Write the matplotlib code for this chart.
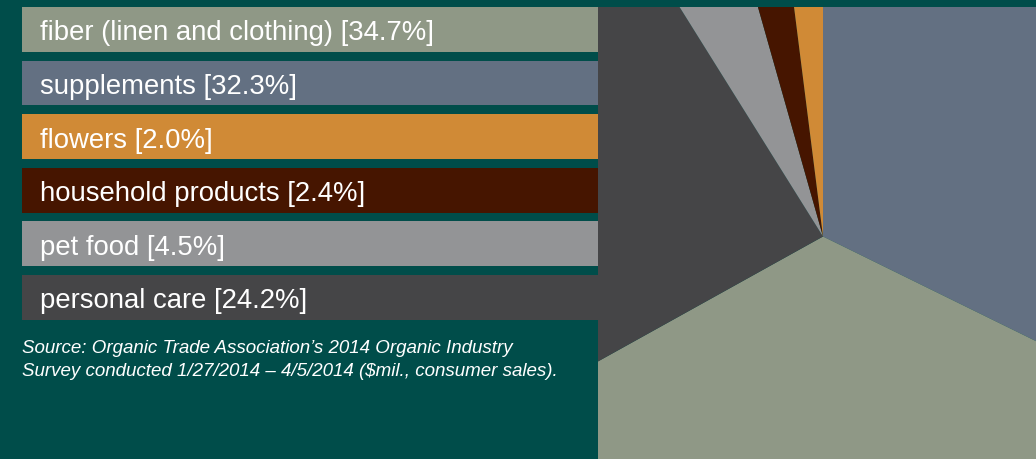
import matplotlib.pyplot as plt

plt.rcParams['font.family'] = ['Liberation Sans', 'DejaVu Sans']

# legend order (top to bottom)
categories = ['fiber (linen and clothing)', 'supplements', 'flowers',
              'household products', 'pet food', 'personal care']
shares = [34.7, 32.3, 2.0, 2.4, 4.5, 24.2]
colors = ['#8f9886', '#637082', '#d08a36', '#461500', '#939496', '#454547']

# order of the wedges, clockwise from 12 o'clock
pie_order = ['supplements', 'fiber (linen and clothing)', 'personal care',
             'pet food', 'household products', 'flowers']

source = ("Source: Organic Trade Association\u2019s 2014 Organic Industry\n"
          "Survey conducted 1/27/2014 \u2013 4/5/2014 ($mil., consumer sales).")

bg = '#004d4a'
W, H = 1036, 460
px0, top_gap = 598, 8  # left edge of the pie panel, band above it

fig = plt.figure(figsize=(W / 100, H / 100), dpi=100, facecolor=bg)

# legend strips + source note
ax = fig.add_axes([0, 0, 1, 1])
ax.set_facecolor(bg)
top, pitch, bar_h = 8, 53.6, 44.7
for k, (cat, val, col) in enumerate(zip(categories, shares, colors)):
    yc = H - (top + k * pitch + bar_h / 2)
    ax.barh(yc, px0 + 1 - 22, left=22, height=bar_h, color=col, linewidth=0)
    ax.text(40, yc, f'{cat} [{val:.1f}%]', color='white', fontsize=19.8,
            va='center_baseline', ha='left')
ax.text(22, H - 360, source, color='white', fontsize=13.5, style='italic',
        va='center', ha='left', linespacing=1.42)
ax.set_xlim(0, W)
ax.set_ylim(0, H)
ax.axis('off')

# big pie, cropped by its own axes
pw, ph = W - px0, H - top_gap
pax = fig.add_axes([px0 / W, 0, pw / W, ph / H])
idx = [categories.index(c) for c in pie_order]
wedges, _ = pax.pie([shares[i] for i in idx], colors=[colors[i] for i in idx],
                    startangle=90, counterclock=False,
                    center=(823 - px0, H - 237.5), radius=900, frame=True,
                    wedgeprops=dict(linewidth=0))
for w in wedges:
    w.set_clip_on(True)  # pie turns clipping off by default
pax.set_xlim(0, pw)
pax.set_ylim(0, ph)
pax.set_aspect('auto')
pax.axis('off')

fig.savefig('out.png', dpi=100, facecolor=bg)
